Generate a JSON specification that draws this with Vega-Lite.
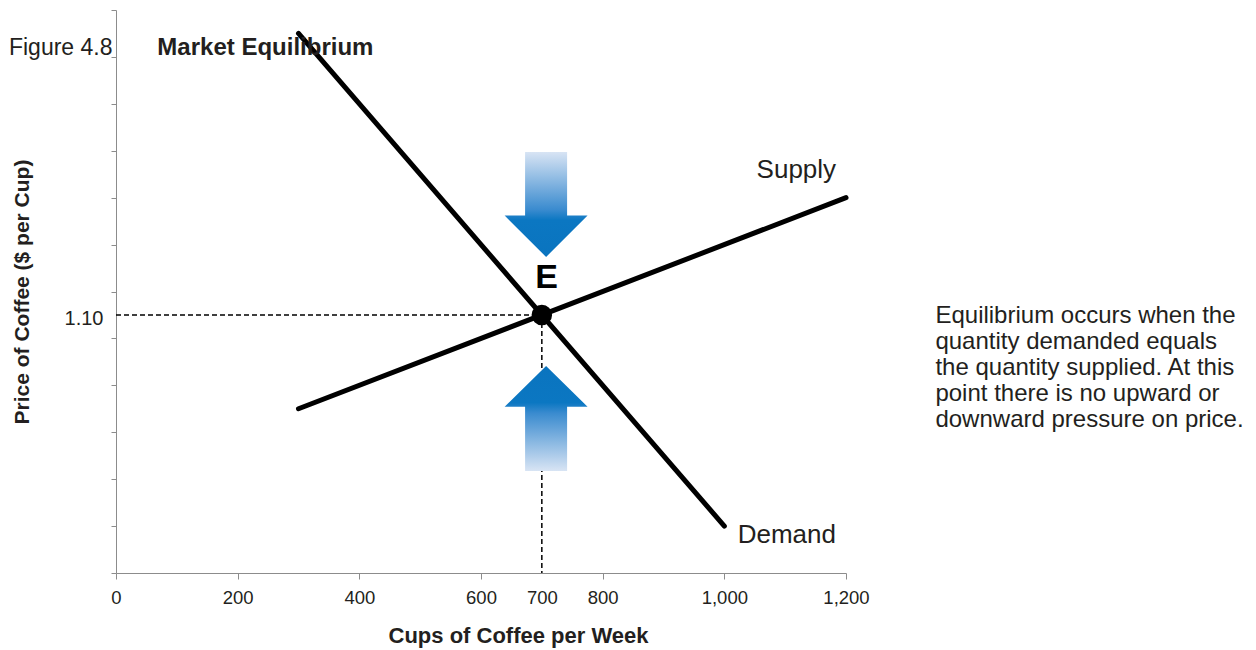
{
  "$schema": "https://vega.github.io/schema/vega-lite/v6.json",
  "width": 730,
  "height": 563,
  "autosize": {"type": "none"},
  "padding": {"left": 116, "top": 10, "right": 410, "bottom": 77},
  "background": "white",
  "config": {"view": {"stroke": null}, "font": "Liberation Sans"},
  "datasets": {
    "guides": [
      {"x": 0, "y": 1.1, "x2": 700, "y2": 1.1},
      {"x": 700, "y": 1.1, "x2": 700, "y2": 0}
    ],
    "curves": [
      {"curve": "Demand", "x": 300, "y": 2.3},
      {"curve": "Demand", "x": 1000, "y": 0.2},
      {"curve": "Supply", "x": 300, "y": 0.7},
      {"curve": "Supply", "x": 1200, "y": 1.6}
    ],
    "eq": [{"x": 700, "y": 1.1}],
    "down": [{"x": 707, "y": 1.571}],
    "up": [{"x": 707, "y": 0.659}],
    "curveLabels": [
      {"text": "Supply", "x": 1053, "y": 1.685},
      {"text": "Demand", "x": 1022, "y": 0.128}
    ],
    "eLabel": [{"text": "E", "x": 708, "y": 1.214}],
    "fig": [{"text": "Figure 4.8", "x": -176, "y": 2.21}],
    "figTitle": [{"text": "Market Equilibrium", "x": 68, "y": 2.21}],
    "note": [{"text": "Equilibrium occurs when the\nquantity demanded equals\nthe quantity supplied. At this\npoint there is no upward or\ndownward pressure on price.", "x": 1347, "y": 1.066}]
  },
  "encoding": {
    "x": {
      "field": "x",
      "type": "quantitative",
      "scale": {"domain": [0, 1200], "nice": false},
      "axis": {
        "values": [0, 200, 400, 600, 700, 800, 1000, 1200],
        "format": ",d",
        "grid": false,
        "labelFlush": false,
        "domainColor": "#8c8c8c",
        "tickColor": {"condition": {"test": "datum.value == 700", "value": "transparent"}, "value": "#8c8c8c"},
        "tickSize": 6,
        "labelFont": "Liberation Sans",
        "labelFontSize": 18.5,
        "labelColor": "#231f20",
        "labelPadding": 9,
        "title": "Cups of Coffee per Week",
        "titleFont": "Liberation Sans",
        "titleFontSize": 22,
        "titleFontWeight": "bold",
        "titleColor": "#231f20",
        "titleX": 402,
        "titlePadding": 19
      }
    },
    "y": {
      "field": "y",
      "type": "quantitative",
      "scale": {"domain": [0, 2.4], "nice": false},
      "axis": {
        "values": [0, 0.2, 0.4, 0.6, 0.8, 1.0, 1.1, 1.2, 1.4, 1.6, 1.8, 2.0, 2.2, 2.4],
        "labelExpr": "datum.value == 1.1 ? '1.10' : ''",
        "grid": false,
        "labelFlush": false,
        "domainColor": "#8c8c8c",
        "tickColor": {"condition": {"test": "datum.value == 1.1", "value": "transparent"}, "value": "#8c8c8c"},
        "tickSize": 5,
        "labelFont": "Liberation Sans",
        "labelFontSize": 20,
        "labelColor": "#231f20",
        "labelPadding": 8,
        "labelOffset": 4,
        "title": "Price of Coffee ($ per Cup)",
        "titleFont": "Liberation Sans",
        "titleFontSize": 21,
        "titleFontWeight": "bold",
        "titleColor": "#231f20",
        "titlePadding": 32
      }
    }
  },
  "layer": [
    {
      "data": {"name": "guides"},
      "mark": {"type": "rule", "color": "black", "strokeWidth": 1.5, "strokeDash": [5, 3]},
      "encoding": {"x2": {"field": "x2"}, "y2": {"field": "y2"}}
    },
    {
      "data": {"name": "curves"},
      "mark": {"type": "line", "color": "black", "strokeWidth": 5, "strokeCap": "round"},
      "encoding": {"detail": {"field": "curve", "type": "nominal"}}
    },
    {
      "data": {"name": "eq"},
      "mark": {"type": "point", "shape": "circle", "size": 420, "filled": true, "color": "black", "opacity": 1}
    },
    {
      "data": {"name": "down"},
      "mark": {
        "type": "point",
        "shape": "M-0.4,-1L0.4,-1L0.4,0.21L0.79,0.21L0,1L-0.79,0.21L-0.4,0.21Z",
        "size": 11025,
        "filled": true,
        "opacity": 1,
        "strokeWidth": 0,
        "fill": {"gradient": "linear", "x1": 0, "y1": 0, "x2": 0, "y2": 1,
          "stops": [
            {"offset": 0, "color": "#d8e4f4"},
            {"offset": 0.55, "color": "#3a8bcf"},
            {"offset": 0.65, "color": "#0b77c2"},
            {"offset": 1, "color": "#0a74bf"}
          ]}
      }
    },
    {
      "data": {"name": "up"},
      "mark": {
        "type": "point",
        "shape": "M0,-1L0.79,-0.22L0.4,-0.22L0.4,1L-0.4,1L-0.4,-0.22L-0.79,-0.22Z",
        "size": 11025,
        "filled": true,
        "opacity": 1,
        "strokeWidth": 0,
        "fill": {"gradient": "linear", "x1": 0, "y1": 0, "x2": 0, "y2": 1,
          "stops": [
            {"offset": 0, "color": "#0a74bf"},
            {"offset": 0.35, "color": "#0b77c2"},
            {"offset": 0.45, "color": "#3a8bcf"},
            {"offset": 1, "color": "#d8e4f4"}
          ]}
      }
    },
    {
      "data": {"name": "curveLabels"},
      "mark": {"type": "text", "align": "left", "baseline": "alphabetic", "fontSize": 26, "color": "#231f20", "font": "Liberation Sans"},
      "encoding": {"text": {"field": "text"}}
    },
    {
      "data": {"name": "eLabel"},
      "mark": {"type": "text", "align": "center", "baseline": "alphabetic", "fontSize": 34, "fontWeight": "bold", "color": "black", "font": "Liberation Sans"},
      "encoding": {"text": {"field": "text"}}
    },
    {
      "data": {"name": "fig"},
      "mark": {"type": "text", "align": "left", "baseline": "alphabetic", "fontSize": 23, "color": "#231f20", "font": "Liberation Sans"},
      "encoding": {"text": {"field": "text"}}
    },
    {
      "data": {"name": "figTitle"},
      "mark": {"type": "text", "align": "left", "baseline": "alphabetic", "fontSize": 24, "fontWeight": "bold", "color": "#231f20", "font": "Liberation Sans"},
      "encoding": {"text": {"field": "text"}}
    },
    {
      "data": {"name": "note"},
      "mark": {"type": "text", "align": "left", "baseline": "alphabetic", "fontSize": 24, "lineHeight": 26, "lineBreak": "\n", "color": "#231f20", "font": "Liberation Sans"},
      "encoding": {"text": {"field": "text"}}
    }
  ]
}
